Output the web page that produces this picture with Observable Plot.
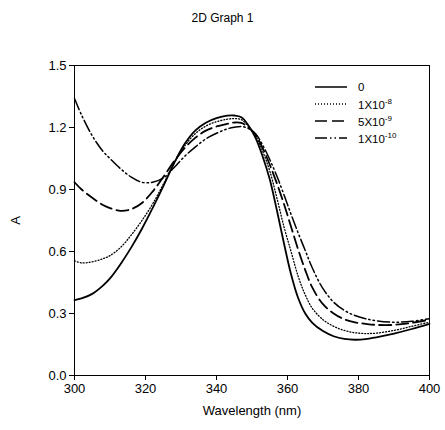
<!DOCTYPE html>
<html>
<head>
<meta charset="utf-8">
<script src="https://cdn.jsdelivr.net/npm/d3@7"></script>
<script src="https://cdn.jsdelivr.net/npm/@observablehq/plot@0.6"></script>
<style>
  body { margin: 0; background: #fff; }
  #wrap { position: relative; width: 445px; height: 430px; font-family: "Liberation Sans", Arial, sans-serif; }
  #title { position: absolute; left: 0; top: 11px; width: 445px; text-align: center; font-size: 12px; color: #000; }
  #legend { position: absolute; left: 315px; top: 78px; font-size: 11.5px; color: #000; }
  #legend .row { display: flex; align-items: center; height: 17px; }
  #legend svg { margin-right: 11px; }
  #legend sup { font-size: 8px; vertical-align: 5px; }
</style>
</head>
<body>
<div id="wrap"><div id="title"></div><div id="legend"></div></div>
<script>
const title = "2D Graph 1";
const xLabel = "Wavelength (nm)";
const yLabel = "A";
const xTicks = [300, 320, 340, 360, 380, 400];
const yTicks = [0.0, 0.3, 0.6, 0.9, 1.2, 1.5];

const wavelength = [300,302,305,308,310,313,316,319,322,325,328,331,334,337,340,343,345,347,349,351,353,355,357,359,361,363,365,367,370,373,376,379,382,385,390,395,400];

const absConc0     = [0.365,0.373,0.395,0.435,0.47,0.54,0.62,0.71,0.81,0.915,1.025,1.12,1.185,1.223,1.245,1.257,1.258,1.25,1.21,1.15,1.06,0.95,0.80,0.64,0.49,0.375,0.30,0.255,0.215,0.19,0.177,0.173,0.176,0.185,0.203,0.225,0.25];
const absConc1e8   = [0.555,0.545,0.55,0.565,0.58,0.62,0.68,0.75,0.83,0.925,1.025,1.11,1.17,1.207,1.228,1.24,1.243,1.238,1.205,1.16,1.085,0.99,0.86,0.72,0.60,0.48,0.39,0.325,0.27,0.238,0.218,0.207,0.203,0.205,0.218,0.238,0.258];
const absConc5e9   = [0.935,0.90,0.86,0.825,0.81,0.797,0.805,0.835,0.89,0.96,1.035,1.10,1.15,1.185,1.205,1.218,1.224,1.222,1.20,1.165,1.10,1.02,0.93,0.83,0.72,0.61,0.51,0.425,0.345,0.30,0.272,0.257,0.25,0.245,0.245,0.255,0.27];
const absConc1e10  = [1.34,1.26,1.16,1.085,1.05,1.0,0.96,0.935,0.935,0.955,1.005,1.06,1.105,1.145,1.172,1.193,1.201,1.205,1.195,1.17,1.115,1.045,0.965,0.875,0.78,0.69,0.605,0.52,0.42,0.355,0.315,0.29,0.275,0.265,0.258,0.262,0.275];

const legendBase = ["0", "1X10", "5X10", "1X10"];
const legendExp  = ["", "-8", "-9", "-10"];

const seriesValues = [absConc0, absConc1e8, absConc5e9, absConc1e10];
const styles = [
  {strokeWidth: 1.8, strokeDasharray: null},
  {strokeWidth: 1.3, strokeDasharray: "1 2"},
  {strokeWidth: 1.8, strokeDasharray: "12 5"},
  {strokeWidth: 1.5, strokeDasharray: "12 3 1.5 3 1.5 3"}
];

const tables = seriesValues.map(vals => wavelength.map((w, i) => ({w, a: vals[i]})));

const lineMarks = tables.map((t, k) => Plot.line(t, {
  x: "w", y: "a", stroke: "black", curve: "catmull-rom",
  strokeWidth: styles[k].strokeWidth,
  ...(styles[k].strokeDasharray ? {strokeDasharray: styles[k].strokeDasharray} : {})
}));

const chart = Plot.plot({
  width: 445, height: 430,
  marginLeft: 74, marginRight: 16, marginTop: 65, marginBottom: 55,
  style: {fontFamily: "'Liberation Sans', Arial, sans-serif", fontSize: "13px", color: "black", background: "white"},
  x: {domain: [300, 400]},
  y: {domain: [0, 1.5]},
  marks: [
    Plot.frame({stroke: "black", strokeWidth: 1}),
    Plot.axisX({ticks: xTicks, tickSize: 5, tickPadding: 3, label: xLabel, labelAnchor: "center", labelOffset: 39, labelArrow: "none", fontSize: 13}),
    Plot.axisY({ticks: yTicks, tickSize: 5, tickPadding: 3, tickFormat: d3.format(".1f"), label: yLabel, labelAnchor: "center", labelOffset: 64, labelArrow: "none", fontSize: 13}),
    ...lineMarks
  ]
});
document.getElementById("wrap").prepend(chart);
document.getElementById("title").textContent = title;

const legend = document.getElementById("legend");
legendBase.forEach((b, k) => {
  const row = document.createElement("div");
  row.className = "row";
  const dash = styles[k].strokeDasharray ? `stroke-dasharray="${styles[k].strokeDasharray}"` : "";
  row.innerHTML = `<svg width="32" height="6"><line x1="0" y1="3" x2="32" y2="3" stroke="black" stroke-width="${Math.min(styles[k].strokeWidth,1.5)}" ${dash}/></svg><span>${b}${legendExp[k] ? `<sup>${legendExp[k]}</sup>` : ""}</span>`;
  legend.appendChild(row);
});
</script>
</body>
</html>
